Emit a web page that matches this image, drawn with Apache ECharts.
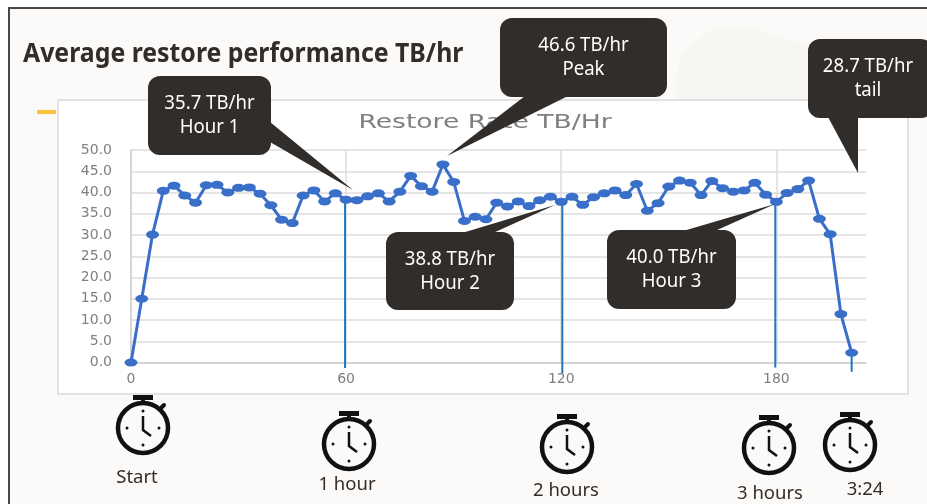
<!DOCTYPE html>
<html>
<head>
<meta charset="utf-8">
<title>Average restore performance TB/hr</title>
<script src="https://cdn.jsdelivr.net/npm/echarts@6/dist/echarts.min.js"></script>
<style>
  html, body { margin: 0; padding: 0; background: #fff; }
  #chart { width: 927px; height: 504px; }
</style>
</head>
<body>
<div id="chart"></div>
<script>
// minutes since start, one reading every 3 minutes
var minutes = [0, 3, 6, 9, 12, 15, 18, 21, 24, 27, 30, 33, 36, 39, 42, 45, 48, 51, 54, 57,
  60, 63, 66, 69, 72, 75, 78, 81, 84, 87, 90, 93, 96, 99, 102, 105, 108, 111, 114, 117,
  120, 123, 126, 129, 132, 135, 138, 141, 144, 147, 150, 153, 156, 159, 162, 165, 168, 171, 174, 177,
  180, 183, 186, 189, 192, 195, 198, 201];
var rate = [0, 15, 30.1, 40.4, 41.6, 39.3, 37.6, 41.7, 41.8, 40, 41.1, 41.2, 39.7, 37, 33.6, 32.8, 39.3, 40.5, 37.9, 39.8,
  38.3, 38.2, 39.1, 39.8, 37.9, 40.2, 43.9, 41.5, 40.2, 46.6, 42.5, 33.3, 34.3, 33.7, 37.6, 36.7, 37.9, 36.8, 38.2, 39,
  37.8, 39, 37.1, 38.9, 39.8, 40.5, 39.4, 42, 35.7, 37.5, 41.4, 42.8, 42.3, 39.4, 42.7, 41, 40.2, 40.5, 42.3, 39.5,
  37.8, 39.9, 40.8, 42.8, 33.8, 30.2, 11.4, 2.3];
// blue hour markers: minute, top value, bottom value (runs a bit under the axis)
var markerMinutes = [59.7, 120.3, 179.7, 201];
var markerTop = [38.3, 37.8, 37.8, 2.3];
var markerBottom = [-1.3, -2.5, -1.2, -2.2];

var chartTitle = 'Restore Rate TB/Hr';
var pageTitle = 'Average restore performance TB/hr';

// box x, y, w, h, then the tail as three points
var callouts = [
  { lines: '35.7 TB/hr\nHour 1', box: [148, 76, 123, 79], tail: [[270, 122], [353, 190], [270, 142]] },
  { lines: '46.6 TB/hr\nPeak', box: [500, 18, 167, 79], tail: [[525, 96], [447, 156], [568, 96]] },
  { lines: '28.7 TB/hr\ntail', box: [808, 39, 125, 79], tail: [[828, 117], [858, 173], [858, 117]] },
  { lines: '38.8 TB/hr\nHour 2', box: [386, 232, 128, 78], tail: [[462, 233], [555, 205], [493, 233]] },
  { lines: '40.0 TB/hr\nHour 3', box: [607, 230, 129, 79], tail: [[683, 231], [775, 204], [715, 231]] }
];

// stopwatch centre x, y and label under it
var watches = [
  { x: 143, y: 428, label: 'Start', lx: 137, ly: 478 },
  { x: 349, y: 444, label: '1 hour', lx: 347, ly: 485 },
  { x: 567, y: 447, label: '2 hours', lx: 566, ly: 491 },
  { x: 769, y: 448, label: '3 hours', lx: 770, ly: 494 },
  { x: 850, y: 445, label: '3:24', lx: 865, ly: 490 }
];

function stopwatch(w) {
  var ink = '#111';
  var kids = [
    { type: 'circle', shape: { cx: 0, cy: 0, r: 25 }, style: { fill: 'transparent', stroke: ink, lineWidth: 4.5 } },
    { type: 'rect', shape: { x: -10, y: -33, width: 20, height: 5 }, style: { fill: ink } },
    { type: 'rect', shape: { x: -2, y: -29, width: 4, height: 4 }, style: { fill: ink } },
    { type: 'line', shape: { x1: 18, y1: -20, x2: 21, y2: -23 }, style: { stroke: ink, lineWidth: 4, lineCap: 'round' } },
    { type: 'polyline', shape: { points: [[0, -12], [0, 2], [8, 8]] }, style: { fill: 'none', stroke: ink, lineWidth: 2.5 } },
    { type: 'circle', shape: { cx: 0, cy: -17, r: 1.5 }, style: { fill: ink } },
    { type: 'circle', shape: { cx: 0, cy: 17, r: 1.5 }, style: { fill: ink } },
    { type: 'circle', shape: { cx: -16, cy: 0, r: 1.5 }, style: { fill: ink } },
    { type: 'circle', shape: { cx: 16, cy: 0, r: 1.5 }, style: { fill: ink } }
  ];
  return { type: 'group', x: w.x, y: w.y, z: 20, children: kids };
}

function calloutParts(c) {
  var b = c.box;
  return [
    { type: 'polygon', z: 50, shape: { points: c.tail }, style: { fill: '#312d2a' } },
    {
      type: 'rect', z: 50,
      shape: { x: b[0], y: b[1], width: b[2], height: b[3], r: 12 },
      style: { fill: '#312d2a' }
    },
    {
      type: 'text', z: 51,
      x: Math.min(b[0] + b[2] / 2, 868), y: b[1] + b[3] / 2,
      scaleX: 0.93,
      style: {
        text: c.lines, fill: '#fff', font: '20px "Noto Sans"', lineHeight: 24,
        align: 'center', verticalAlign: 'middle'
      }
    }
  ];
}

var backdrop = [
  { type: 'rect', z: -5, shape: { x: 9, y: 8, width: 930, height: 510 }, style: { fill: '#fbfaf8', stroke: '#4a4642', lineWidth: 2 } },
  // the faint pattern behind the top right corner
  {
    type: 'polygon', z: -4,
    shape: { points: [[680, 102], [680, 62], [700, 38], [720, 28], [750, 28], [780, 38], [812, 50], [815, 102]], smooth: 0.3 },
    style: { fill: '#f7f6f3' }
  },
  { type: 'rect', z: -3, shape: { x: 58, y: 100, width: 850, height: 294 }, style: { fill: '#fff', stroke: '#e2e2e2', lineWidth: 2 } },
  { type: 'rect', z: -3, shape: { x: 37, y: 110, width: 19, height: 4 }, style: { fill: '#fcc23c' } },
  {
    type: 'text', z: 10, x: 23, y: 54, scaleX: 0.92,
    style: { text: pageTitle, fill: '#312d2a', font: 'bold 27px "Noto Sans"', verticalAlign: 'middle' }
  },
  {
    type: 'text', z: 10, x: 485, y: 123, scaleX: 1.33,
    style: { text: chartTitle, fill: '#7f7f7f', font: '20px "DejaVu Sans"', align: 'center', verticalAlign: 'middle' }
  }
];

var elements = backdrop.concat(watches.map(stopwatch));
watches.forEach(function (w) {
  elements.push({
    type: 'text', z: 20, x: w.lx, y: w.ly,
    style: { text: w.label, fill: '#312d2a', font: '18.5px "Noto Sans"', align: 'center', verticalAlign: 'middle' }
  });
});
callouts.forEach(function (c) {
  elements = elements.concat(calloutParts(c));
});

var markerSeries = markerMinutes.map(function (m, i) {
  return {
    type: 'line',
    data: [[m, markerTop[i]], [m, markerBottom[i]]],
    symbol: 'none',
    clip: false,
    z: 3,
    silent: true,
    lineStyle: { color: '#1f77c4', width: 2 }
  };
});

var chart = echarts.init(document.getElementById('chart'));
chart.setOption({
  animation: false,
  grid: { left: 131, right: 61, top: 150, bottom: 141.5 },
  xAxis: {
    type: 'value',
    min: 0,
    max: 205,
    interval: 60,
    axisLine: { show: true, lineStyle: { color: '#d0d0d0', width: 1.5 } },
    axisTick: { show: false },
    axisLabel: { color: '#808080', fontSize: 14, fontFamily: 'DejaVu Sans', margin: 10, showMaxLabel: false },
    splitLine: { show: true, showMaxLine: false, lineStyle: { color: '#dcdcdc', width: 1.5 } }
  },
  yAxis: {
    type: 'value',
    min: 0,
    max: 50,
    interval: 5,
    axisLine: { show: true, lineStyle: { color: '#d0d0d0', width: 1.5 } },
    axisTick: { show: false },
    axisLabel: {
      color: '#808080', fontSize: 14, fontFamily: 'DejaVu Sans', margin: 19,
      formatter: function (v) { return v.toFixed(1); }
    },
    splitLine: { lineStyle: { color: '#dcdcdc', width: 1.5 } }
  },
  series: markerSeries.concat([{
    type: 'line',
    data: minutes.map(function (m, i) { return [m, rate[i]]; }),
    symbol: 'circle',
    symbolSize: [13, 8],
    clip: false,
    z: 4,
    lineStyle: { color: '#3a6fc9', width: 3 },
    itemStyle: { color: '#3a6fc9' }
  }]),
  graphic: { elements: elements }
});
</script>
</body>
</html>
